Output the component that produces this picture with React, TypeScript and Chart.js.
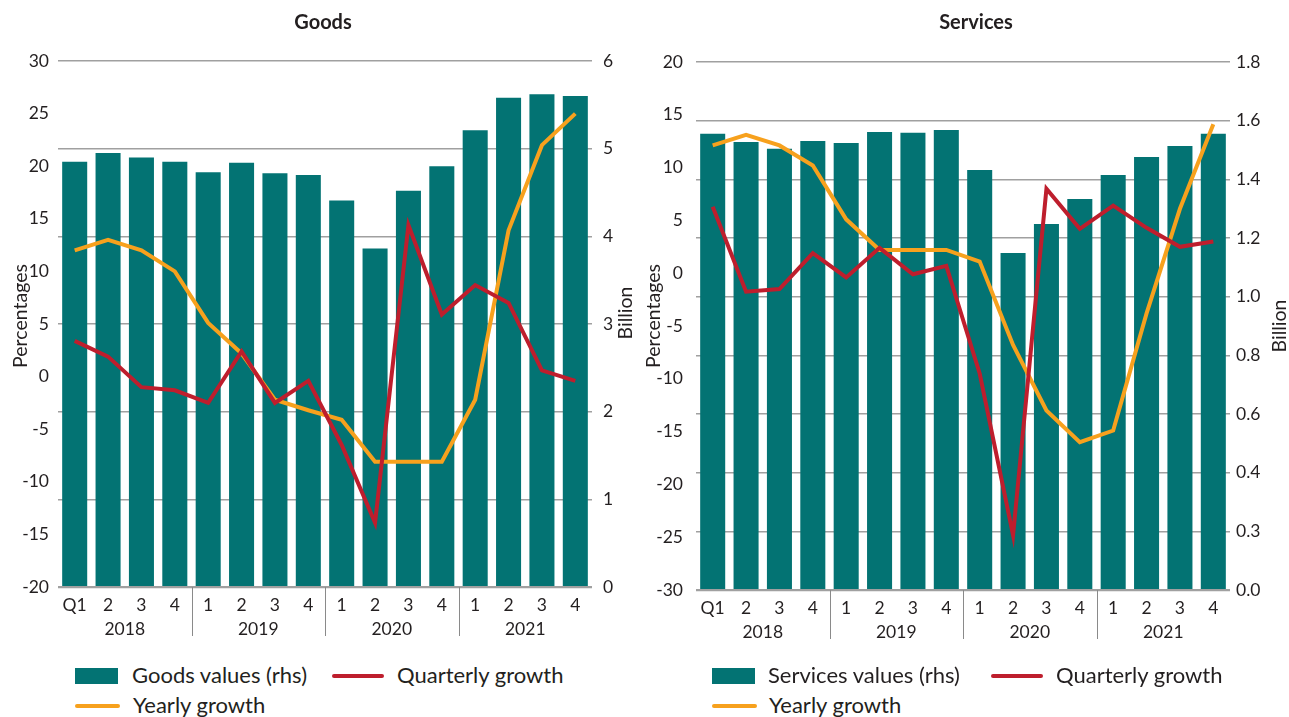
import React, { useEffect, useRef } from "react";
import { Chart, registerables } from "chart.js";

Chart.register(...registerables);

// ---------- DATA ----------
const quarters = ["Q1", "2", "3", "4", "1", "2", "3", "4", "1", "2", "3", "4", "1", "2", "3", "4"];
const years = ["2018", "2019", "2020", "2021"];

const goodsValues = [4.85, 4.95, 4.9, 4.85, 4.73, 4.84, 4.72, 4.7, 4.41, 3.86, 4.52, 4.8, 5.21, 5.58, 5.62, 5.6];
const goodsQuarterly = [3.4, 1.9, -1.0, -1.3, -2.5, 2.4, -2.5, -0.4, -6.5, -13.9, 14.4, 5.9, 8.7, 7.0, 0.6, -0.4];
const goodsYearly = [12.0, 13.0, 12.0, 10.0, 5.1, 2.2, -2.2, -3.2, -4.1, -8.1, -8.1, -8.1, -2.2, 13.9, 22.0, 25.0];

const servicesValues = [1.555, 1.527, 1.504, 1.531, 1.524, 1.561, 1.559, 1.568, 1.432, 1.149, 1.248, 1.333, 1.415, 1.476, 1.514, 1.555];
const servicesQuarterly = [6.3, -1.75, -1.5, 1.9, -0.4, 2.4, -0.1, 0.7, -9.5, -24.8, 8.0, 4.2, 6.4, 4.3, 2.5, 3.0];
const servicesYearly = [12.1, 13.1, 12.1, 10.2, 5.1, 2.2, 2.2, 2.2, 1.1, -6.8, -13.0, -16.0, -14.9, -3.8, 6.1, 14.1];

const goodsLeftRange = [-20, 30, 5];
const goodsRightRange = [0, 6, 1];
const goodsRightLabels = ["0", "1", "2", "3", "4", "5", "6"];

const servicesLeftRange = [-30, 20, 5];
const servicesRightRange = [0, 1.8, 0.2];
const servicesRightLabels = ["0.0", "0.3", "0.4", "0.6", "0.8", "1.0", "1.2", "1.4", "1.6", "1.8"];

// ---------- STYLE ----------
const FONT = 'Lato, "Open Sans", "DejaVu Sans", sans-serif';
const TEXT = "#231f20";
const TEAL = "#037373";
const RED = "#be1e2d";
const ORANGE = "#f7a11d";
const GRID = "#a0a0a0";

const decorPlugin = {
  id: "decor",
  afterDraw(chart: any, _args: any, opts: any) {
    const { ctx, chartArea, scales } = chart;
    const x = scales.x;
    ctx.save();
    ctx.fillStyle = TEXT;
    // title
    ctx.font = `bold 20px ${FONT}`;
    ctx.textAlign = "center";
    ctx.textBaseline = "middle";
    ctx.fillText(opts.title, opts.titleX, opts.titleY);
    // year labels
    ctx.font = `17.5px ${FONT}`;
    years.forEach((yr, i) => {
      const x0 = x.getPixelForValue(i * 4);
      const x1 = x.getPixelForValue(i * 4 + 3);
      ctx.fillText(yr, (x0 + x1) / 2, chartArea.bottom + 42);
    });
    // separators
    ctx.strokeStyle = "#8a8a8a";
    ctx.lineWidth = 1;
    for (let i = 1; i < years.length; i++) {
      const xs = (x.getPixelForValue(i * 4 - 1) + x.getPixelForValue(i * 4)) / 2;
      ctx.beginPath();
      ctx.moveTo(Math.round(xs) + 0.5, chartArea.bottom);
      ctx.lineTo(Math.round(xs) + 0.5, chartArea.bottom + 49);
      ctx.stroke();
    }
    // axis titles
    ctx.font = `19.5px ${FONT}`;
    ctx.save();
    ctx.translate(opts.leftTitleX, opts.leftTitleY);
    ctx.rotate(-Math.PI / 2);
    ctx.fillText("Percentages", 0, 0);
    ctx.restore();
    ctx.save();
    ctx.translate(opts.rightTitleX, opts.rightTitleY);
    ctx.rotate(-Math.PI / 2);
    ctx.fillText("Billion", 0, 0);
    ctx.restore();
    ctx.restore();
  },
};

type PanelProps = {
  left: number;
  width: number;
  height: number;
  valuesLabel: string;
  values: number[];
  quarterly: number[];
  yearly: number[];
  leftRange: number[];
  rightRange: number[];
  rightLabels: string[];
  padTop: number;
  leftWidth: number;
  rightWidth: number;
  xHeight: number;
  leftPad: number;
  rightPad: number;
  decor: any;
};

function Panel(p: PanelProps) {
  const ref = useRef<HTMLCanvasElement | null>(null);
  useEffect(() => {
    if (!ref.current) return;
    const chart = new Chart(ref.current, {
      type: "bar",
      data: {
        labels: quarters,
        datasets: [
          {
            type: "line",
            label: "Quarterly growth",
            data: p.quarterly,
            borderColor: RED,
            backgroundColor: RED,
            borderWidth: 4,
            pointRadius: 0,
            tension: 0,
            yAxisID: "yL",
            order: 0,
          } as any,
          {
            type: "line",
            label: "Yearly growth",
            data: p.yearly,
            borderColor: ORANGE,
            backgroundColor: ORANGE,
            borderWidth: 4,
            pointRadius: 0,
            tension: 0,
            yAxisID: "yL",
            order: 1,
          } as any,
          {
            type: "bar",
            label: p.valuesLabel,
            data: p.values,
            backgroundColor: TEAL,
            borderWidth: 0,
            barPercentage: 0.75,
            categoryPercentage: 1,
            yAxisID: "yR",
            order: 2,
          } as any,
        ],
      },
      options: {
        responsive: false,
        animation: false,
        layout: { padding: { top: p.padTop, left: 0, right: 0, bottom: 0 } },
        plugins: {
          legend: { display: false },
          tooltip: { enabled: false },
          title: { display: false },
          decor: p.decor,
        } as any,
        scales: {
          x: {
            offset: true,
            grid: { display: false, drawTicks: false },
            border: { display: false },
            ticks: {
              color: TEXT,
              font: { family: FONT, size: 17.5 },
              padding: 8,
              autoSkip: false,
              maxRotation: 0,
            },
            afterFit: (s: any) => {
              s.height = p.xHeight;
            },
          },
          yL: {
            position: "left",
            min: p.leftRange[0],
            max: p.leftRange[1],
            grid: { drawOnChartArea: false, drawTicks: false },
            border: { display: false },
            ticks: {
              stepSize: p.leftRange[2],
              color: TEXT,
              font: { family: FONT, size: 17.5 },
              padding: p.leftPad,
            },
            afterFit: (s: any) => {
              s.width = p.leftWidth;
            },
          },
          yR: {
            position: "right",
            min: p.rightRange[0],
            max: p.rightRange[1],
            grid: {
              color: GRID,
              lineWidth: (c: any) => (c.index === 0 ? 2.2 : 1.5),
              drawTicks: false,
            },
            border: { display: false },
            ticks: {
              stepSize: p.rightRange[2],
              color: TEXT,
              font: { family: FONT, size: 17.5 },
              padding: p.rightPad,
              callback: (_v: any, i: number) => p.rightLabels[i],
            },
            afterFit: (s: any) => {
              s.width = p.rightWidth;
            },
          },
        } as any,
      },
      plugins: [decorPlugin as any],
    });
    return () => chart.destroy();
  }, []);
  return (
    <canvas
      ref={ref}
      width={p.width}
      height={p.height}
      style={{ position: "absolute", left: p.left, top: 0, width: p.width, height: p.height }}
    />
  );
}

type LegendProps = { left: number; label: string; rectW: number; textX: number; redX: number; redW: number; qTextX: number; oW: number; yTextX: number };

function Legend(l: LegendProps) {
  const txt: React.CSSProperties = {
    position: "absolute",
    fontFamily: FONT,
    fontSize: 22,
    color: TEXT,
    lineHeight: "26px",
    whiteSpace: "nowrap",
  };
  return (
    <>
      <div style={{ position: "absolute", left: l.left, top: 668, width: l.rectW, height: 16, background: TEAL }} />
      <div style={{ ...txt, left: l.textX, top: 662 }}>{l.label}</div>
      <div style={{ position: "absolute", left: l.redX, top: 674, width: l.redW, height: 4, borderRadius: 2, background: RED }} />
      <div style={{ ...txt, left: l.qTextX, top: 662 }}>Quarterly growth</div>
      <div style={{ position: "absolute", left: l.left, top: 704, width: l.oW, height: 4, borderRadius: 2, background: ORANGE }} />
      <div style={{ ...txt, left: l.yTextX, top: 692 }}>Yearly growth</div>
    </>
  );
}

export default function App() {
  return (
    <div style={{ position: "absolute", left: 0, top: 0, width: 1289, height: 717, background: "#fff", overflow: "hidden" }}>
      <Panel
        left={0}
        width={645}
        height={660}
        valuesLabel="Goods values (rhs)"
        values={goodsValues}
        quarterly={goodsQuarterly}
        yearly={goodsYearly}
        leftRange={goodsLeftRange}
        rightRange={goodsRightRange}
        rightLabels={goodsRightLabels}
        padTop={61}
        leftWidth={58}
        rightWidth={53}
        xHeight={73}
        leftPad={9}
        rightPad={11}
        decor={{ title: "Goods", titleX: 323, titleY: 23, leftTitleX: 21, leftTitleY: 316, rightTitleX: 626, rightTitleY: 313 }}
      />
      <Panel
        left={640}
        width={649}
        height={660}
        valuesLabel="Services values (rhs)"
        values={servicesValues}
        quarterly={servicesQuarterly}
        yearly={servicesYearly}
        leftRange={servicesLeftRange}
        rightRange={servicesRightRange}
        rightLabels={servicesRightLabels}
        padTop={62}
        leftWidth={56}
        rightWidth={59}
        xHeight={70}
        leftPad={13}
        rightPad={6}
        decor={{ title: "Services", titleX: 336, titleY: 23, leftTitleX: 14, leftTitleY: 316, rightTitleX: 640, rightTitleY: 326 }}
      />
      <Legend left={75} label="Goods values (rhs)" rectW={43} textX={132} redX={332} redW={52} qTextX={397} oW={45} yTextX={133} />
      <Legend left={712} label="Services values (rhs)" rectW={43} textX={768} redX={991} redW={52} qTextX={1056} oW={45} yTextX={769} />
    </div>
  );
}
